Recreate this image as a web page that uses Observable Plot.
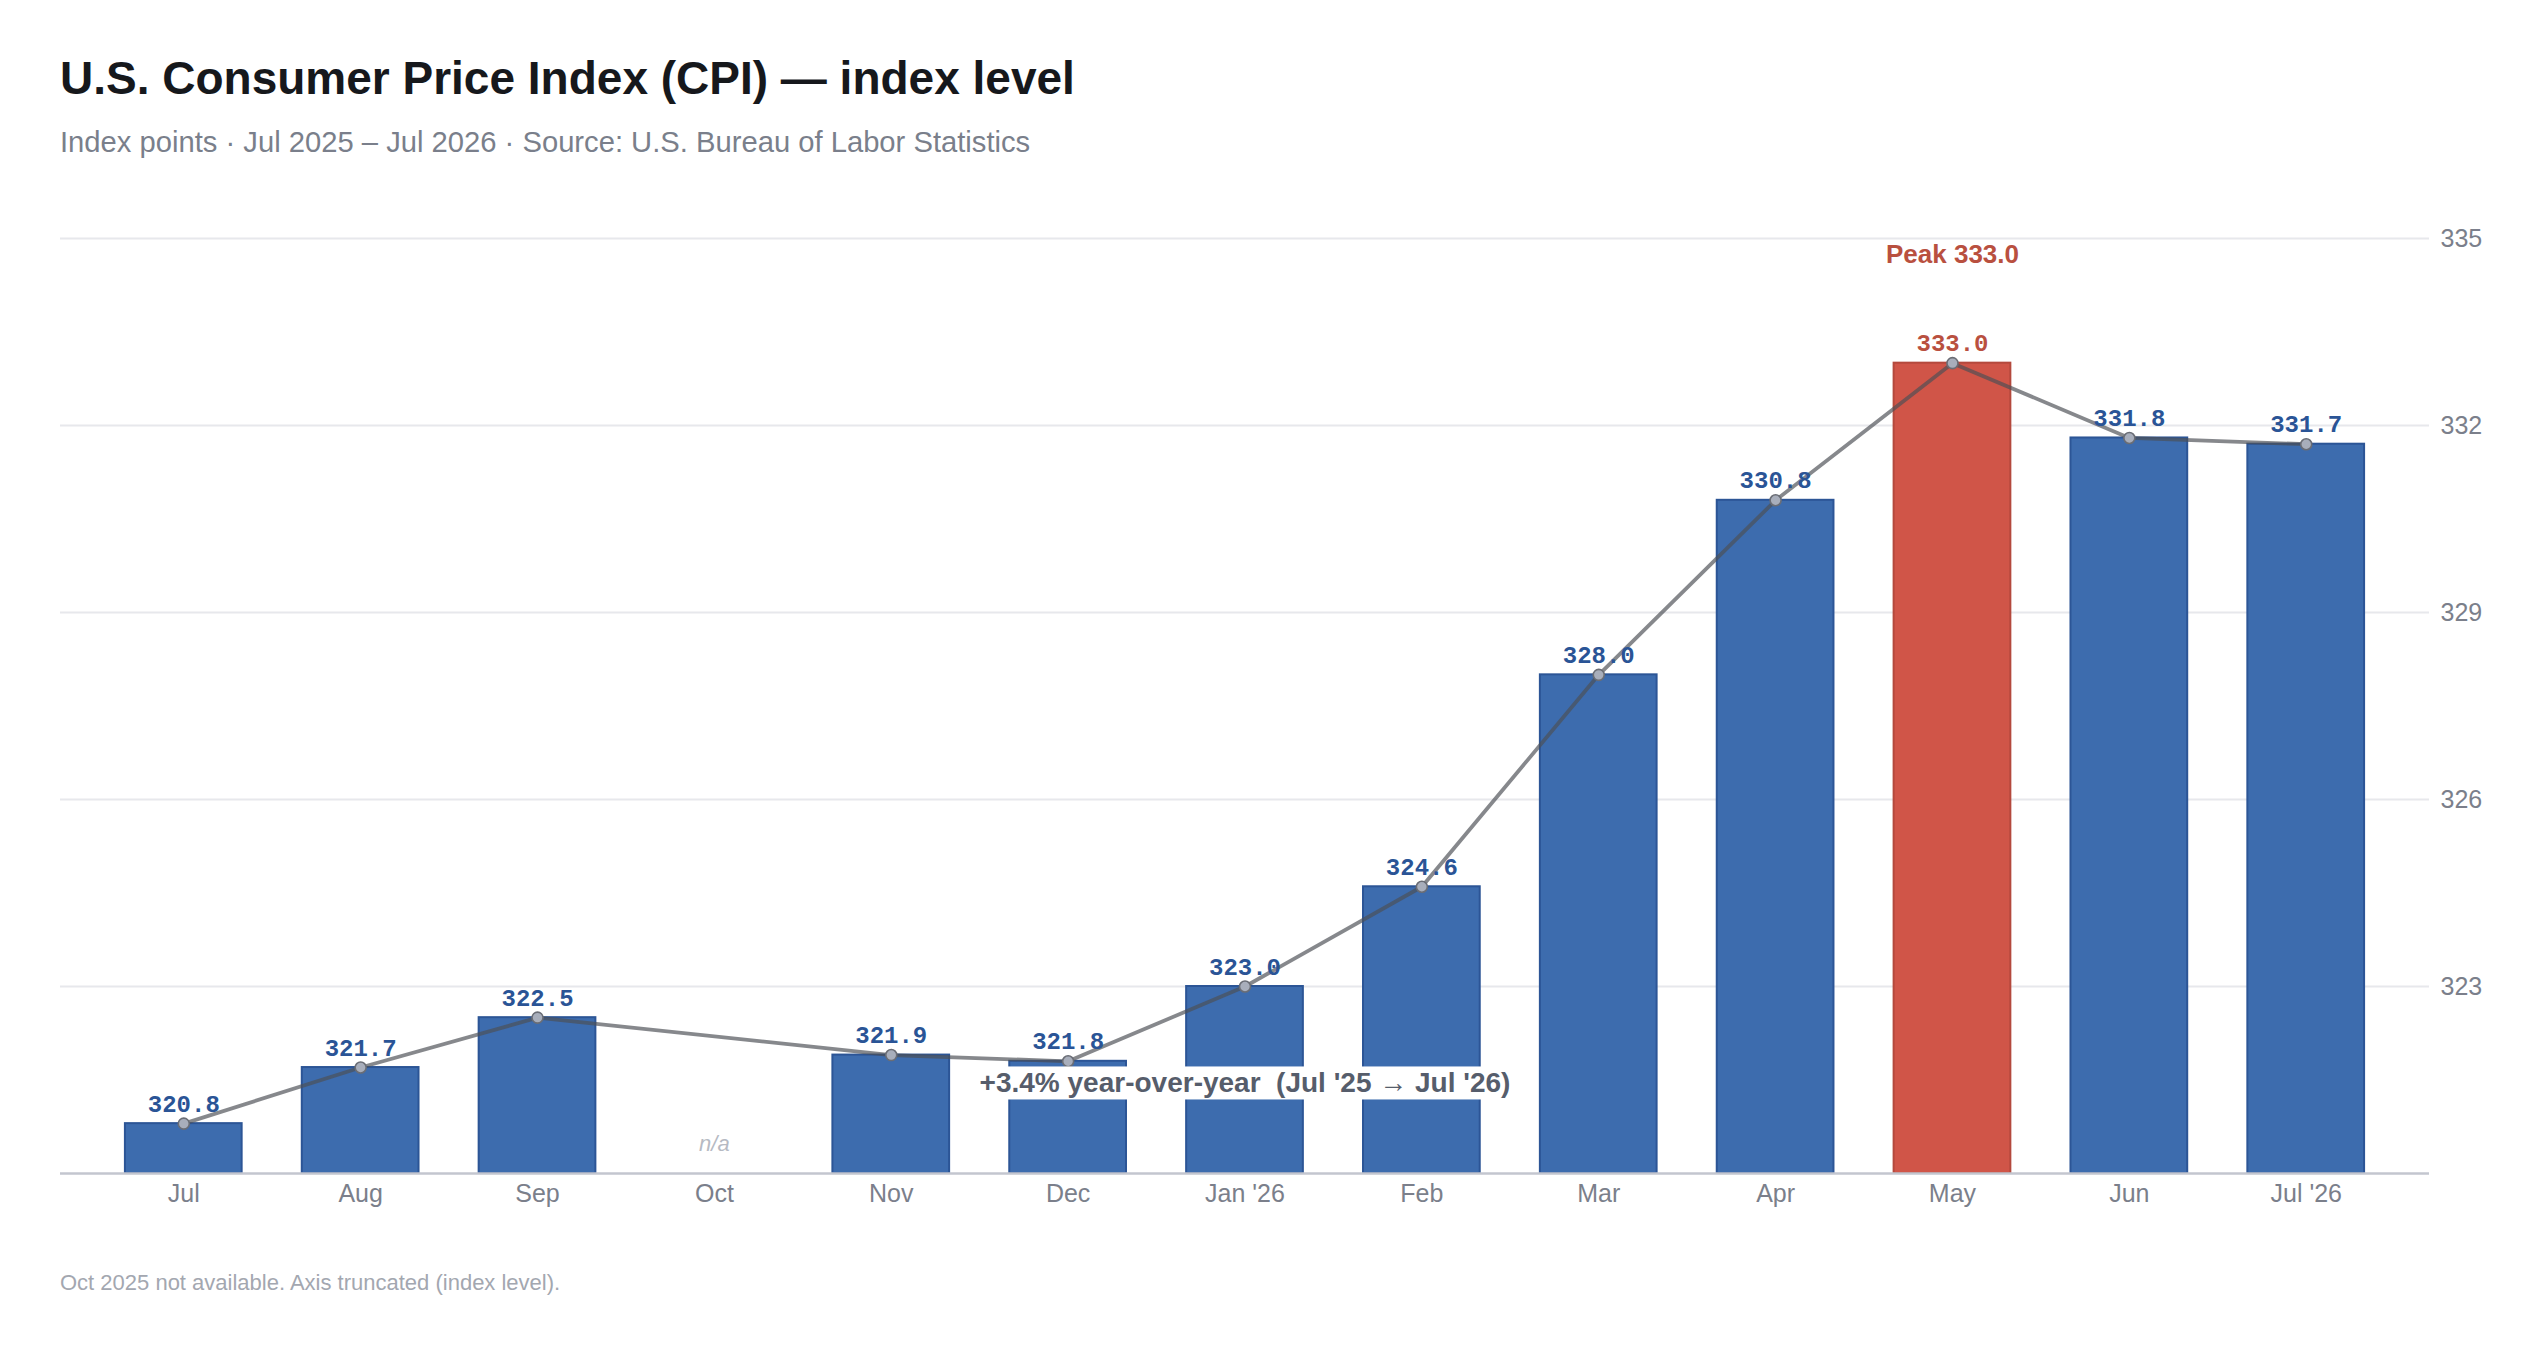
<!DOCTYPE html>
<html>
<head>
<meta charset="utf-8">
<script src="https://cdn.jsdelivr.net/npm/d3@7"></script>
<script src="https://cdn.jsdelivr.net/npm/@observablehq/plot@0.6"></script>
<style>
html,body{margin:0;padding:0;background:#fff;}
body{width:2542px;height:1356px;position:relative;overflow:hidden;font-family:"Liberation Sans",Arial,sans-serif;}
#title{position:absolute;left:60px;top:55px;font-size:46px;line-height:1;font-weight:700;color:#16181c;white-space:nowrap;}
#subtitle{position:absolute;left:60px;top:128px;font-size:29.2px;line-height:1;color:#7a7f8b;white-space:nowrap;}
#chart{position:absolute;left:0;top:179px;}
#caption{position:absolute;left:60px;top:1272px;font-size:22px;line-height:1;color:#a3a7b0;white-space:nowrap;}
</style>
</head>
<body>
<div id="title">U.S. Consumer Price Index (CPI) — index level</div>
<div id="subtitle">Index points · Jul 2025 – Jul 2026 · Source: U.S. Bureau of Labor Statistics</div>
<div id="chart"></div>
<div id="caption">Oct 2025 not available. Axis truncated (index level).</div>
<script>
// ---- data ----
const months = ["Jul", "Aug", "Sep", "Oct", "Nov", "Dec", "Jan '26", "Feb", "Mar", "Apr", "May", "Jun", "Jul '26"];
const cpi = [320.8, 321.7, 322.5, null, 321.9, 321.8, 323.0, 324.6, 328.0, 330.8, 333.0, 331.8, 331.7];
const yTicks = [323, 326, 329, 332, 335];
const yDomain = [320, 335];
const missingLabel = "n/a";
const yoyFrom = "Jul '25", yoyTo = "Jul '26";
const yoyAnchorMonth = "Jan '26";

// ---- colors ----
const blue = "#3d6cae", blueStroke = "#2c5596", labelBlue = "#2a5496";
const red = "#d05548", redStroke = "#b4493d", labelRed = "#b9503f";

const data = months.map((m, i) => ({month: m, value: cpi[i]}));
const present = data.filter(d => d.value != null);
const missing = data.filter(d => d.value == null);
const peak = d3.greatest(present, d => d.value);
const first = present[0], last = present[present.length - 1];
const yoy = (last.value / first.value - 1) * 100;
const yoyText = `${yoy >= 0 ? "+" : ""}${yoy.toFixed(1)}% year-over-year  (${yoyFrom} \u2192 ${yoyTo})`;

const chart = Plot.plot({
  width: 2542,
  height: 1060,
  marginLeft: 60,
  marginRight: 113,
  marginTop: 59,
  marginBottom: 66,
  style: {fontFamily: "Liberation Sans, Arial, sans-serif", fontSize: "25px", color: "#7b7f8b", background: "white", overflow: "visible"},
  x: {type: "band", domain: months, paddingInner: 0.34, paddingOuter: 0.367, round: false, tickSize: 0, tickPadding: 11, label: null},
  y: {domain: yDomain, ticks: yTicks, axis: "right", tickSize: 0, tickPadding: 11, label: null},
  color: {type: "identity"},
  marks: [
    Plot.ruleY(yTicks, {stroke: "#e7e8ec", strokeWidth: 2}),
    Plot.barY(present, {x: "month", y1: () => yDomain[0], y2: "value",
      fill: d => d === peak ? red : blue, stroke: d => d === peak ? redStroke : blueStroke, strokeWidth: 2}),
    Plot.ruleY([yDomain[0]], {stroke: "#c3c6cf", strokeWidth: 2.5}),
    Plot.line(present, {x: "month", y: "value", stroke: "#4d4f55", strokeOpacity: 0.68, strokeWidth: 3.8}),
    Plot.dot(present, {x: "month", y: "value", r: 5.5, fill: "#a8aebb", stroke: "#6a6d75", strokeWidth: 1.6}),
    Plot.text(present, {x: "month", y: "value", text: d => d.value.toFixed(1), lineAnchor: "bottom", dy: -12,
      fontFamily: "Liberation Mono, monospace", fontWeight: "bold", fontSize: 24,
      fill: d => d === peak ? labelRed : labelBlue}),
    Plot.text(missing, {x: "month", y: () => yDomain[0], text: () => missingLabel, lineAnchor: "bottom", dy: -23,
      fontStyle: "italic", fontSize: 22, fill: "#b6bac3"}),
    Plot.text([peak], {x: "month", y: () => yDomain[1], text: d => `Peak ${d.value.toFixed(1)}`, lineAnchor: "bottom", dy: 24,
      fontWeight: "bold", fontSize: 26, fill: labelRed}),
    Plot.text([yoyText], {x: () => yoyAnchorMonth, y: () => yDomain[0], text: d => d, lineAnchor: "middle", dy: -90,
      fontWeight: "bold", fontSize: 28, fill: "#565d6b"})
  ]
});

document.getElementById("chart").append(chart);

// white box behind the YoY annotation
d3.select(chart).selectAll("text").filter(function () { return this.textContent === yoyText; }).each(function () {
  this.style.whiteSpace = "pre";
  const b = this.getBBox();
  const r = document.createElementNS("http://www.w3.org/2000/svg", "rect");
  r.setAttribute("x", b.x - 8);
  r.setAttribute("y", b.y - 1);
  r.setAttribute("width", b.width + 16);
  r.setAttribute("height", b.height + 2);
  r.setAttribute("fill", "white");
  const t = this.getAttribute("transform");
  if (t) r.setAttribute("transform", t);
  this.parentNode.insertBefore(r, this);
});
</script>
</body>
</html>
